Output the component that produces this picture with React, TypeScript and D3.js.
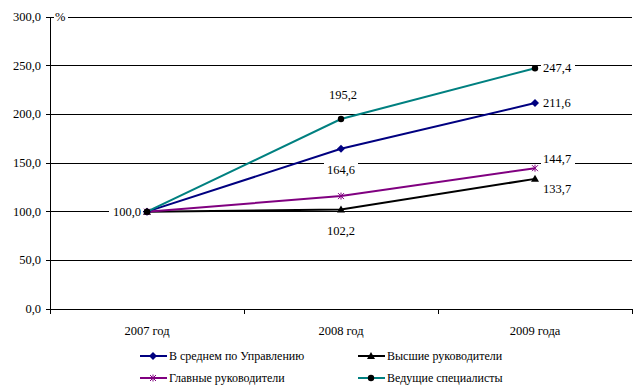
import * as d3 from "d3"

const years = ["2007 год", "2008 год", "2009 года"]
const avgValues = [100.0, 164.6, 211.6]
const topValues = [100.0, 102.2, 133.7]
const chiefValues = [100.0, 116.0, 144.7]
const leadValues = [100.0, 195.2, 247.4]
const yTicks = [0, 50, 100, 150, 200, 250, 300]
const seriesNames = [
  "В среднем по Управлению",
  "Высшие руководители",
  "Главные руководители",
  "Ведущие специалисты",
]

const fmt = (v: number) => v.toFixed(1).replace(".", ",")
const FONT = "Liberation Serif, Times New Roman, DejaVu Serif, serif"
const txt = { fontFamily: FONT, fontSize: "12.5px" }

type Marker = "diamond" | "triangle" | "star" | "circle"

function MarkerShape({ kind, x, y, color }: { kind: Marker; x: number; y: number; color: string }) {
  if (kind === "diamond") {
    return <path d={`M${x},${y - 4}L${x + 4},${y}L${x},${y + 4}L${x - 4},${y}Z`} fill={color} />
  }
  if (kind === "triangle") {
    return <path d={`M${x},${y - 4}L${x + 4},${y + 3}L${x - 4},${y + 3}Z`} fill={color} />
  }
  if (kind === "circle") {
    return <circle cx={x} cy={y} r={3.2} fill={color} />
  }
  return (
    <g stroke={color} strokeWidth={1}>
      <line x1={x - 3} y1={y - 3} x2={x + 3} y2={y + 3} />
      <line x1={x - 3} y1={y + 3} x2={x + 3} y2={y - 3} />
      <line x1={x} y1={y - 3.5} x2={x} y2={y + 3.5} />
    </g>
  )
}

export default function App() {
  const left = 50
  const right = 632
  const top = 17
  const bottom = 309

  const x = d3.scaleBand<string>().domain(years).range([left, right])
  const y = d3.scaleLinear().domain([0, 300]).range([bottom, top])
  const cx = (c: string) => (x(c) ?? 0) + x.bandwidth() / 2

  const series = [
    { name: seriesNames[0], values: avgValues, color: "#000080", marker: "diamond" as Marker, mColor: "#000080" },
    { name: seriesNames[1], values: topValues, color: "#000000", marker: "triangle" as Marker, mColor: "#000000" },
    { name: seriesNames[2], values: chiefValues, color: "#800080", marker: "star" as Marker, mColor: "#800080" },
    { name: seriesNames[3], values: leadValues, color: "#008080", marker: "circle" as Marker, mColor: "#000000" },
  ]

  const line = d3
    .line<number>()
    .x((_, i) => cx(years[i]))
    .y((d) => y(d))

  // data labels: [series index, point index, dx, dy, anchor]
  const labels: [number, number, number, number, string][] = [
    [0, 0, -6, 4, "end"],
    [3, 1, 2, -20, "middle"],
    [0, 1, 0, 25, "middle"],
    [1, 1, 0, 25, "middle"],
    [3, 2, 8, 4, "start"],
    [0, 2, 8, 4, "start"],
    [2, 2, 8, -5, "start"],
    [1, 2, 8, 14, "start"],
  ]

  return (
    <svg width={639} height={390} style={{ display: "block", position: "absolute", left: 0, top: 0 }}>
      <rect width={639} height={390} fill="#fff" />
      {/* grid */}
      {yTicks.map((t) => (
        <line key={t} x1={left} x2={right} y1={y(t)} y2={y(t)} stroke="#000" strokeWidth={1} shapeRendering="crispEdges" />
      ))}
      {/* y axis */}
      <line x1={left} x2={left} y1={top} y2={bottom} stroke="#000" shapeRendering="crispEdges" />
      {yTicks.map((t) => (
        <g key={"yt" + t}>
          <line x1={left - 4} x2={left} y1={y(t)} y2={y(t)} stroke="#000" shapeRendering="crispEdges" />
          <text x={left - 9} y={y(t) + 4} textAnchor="end" style={txt} fill="#000">
            {fmt(t)}
          </text>
        </g>
      ))}
      <rect x={54} y={8} width={14} height={14} fill="#fff" />
      <text x={55} y={21} style={txt}>%</text>
      {/* x ticks */}
      {years.concat([""]).map((c, i) => {
        const xx = i < years.length ? x(c) ?? 0 : right
        return <line key={"xt" + i} x1={xx} x2={xx} y1={bottom} y2={bottom + 5} stroke="#000" shapeRendering="crispEdges" />
      })}
      {years.map((c) => (
        <text key={c} x={cx(c)} y={335} textAnchor="middle" style={txt}>
          {c}
        </text>
      ))}
      {/* labels with white backgrounds */}
      {labels.map(([si, pi, dx, dy, anchor], k) => {
        const v = series[si].values[pi]
        const px = cx(years[pi]) + dx
        const py = y(v) + dy
        const w = 30
        const bx = anchor === "end" ? px - w : anchor === "middle" ? px - w / 2 : px
        return (
          <g key={"lb" + k}>
            <rect x={bx - 2} y={py - 11} width={w + 4} height={14} fill="#fff" />
            <text x={px} y={py} textAnchor={anchor as any} style={txt}>
              {fmt(v)}
            </text>
          </g>
        )
      })}
      {/* lines */}
      {series.map((s) => (
        <path key={s.name} d={line(s.values) ?? ""} fill="none" stroke={s.color} strokeWidth={2} />
      ))}
      {series.map((s) =>
        s.values.map((v, i) => (
          <MarkerShape key={s.name + i} kind={s.marker} x={cx(years[i])} y={y(v)} color={s.mColor} />
        ))
      )}
      {/* legend */}
      {series.map((s, i) => {
        const lx = i % 2 === 0 ? 140 : 358
        const ly = i < 2 ? 356 : 378
        return (
          <g key={"lg" + i}>
            <line x1={lx} x2={lx + 27} y1={ly} y2={ly} stroke={s.color} strokeWidth={2} />
            <MarkerShape kind={s.marker} x={lx + 13} y={ly} color={s.mColor} />
            <text x={lx + 29} y={ly + 4} style={{ fontFamily: FONT, fontSize: "12px" }}>
              {s.name}
            </text>
          </g>
        )
      })}
    </svg>
  )
}
